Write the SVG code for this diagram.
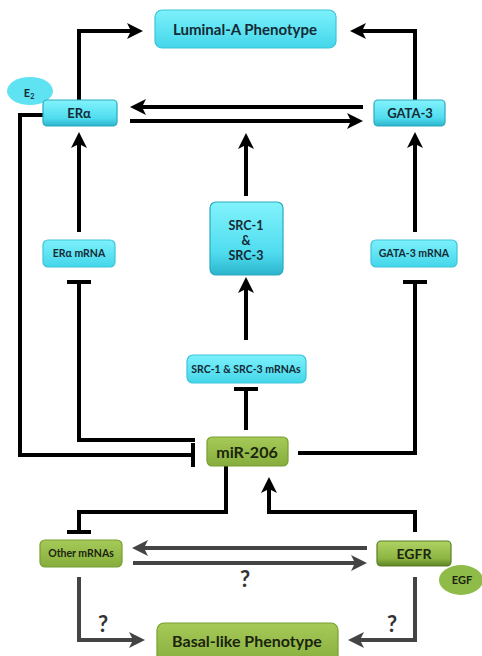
<svg xmlns="http://www.w3.org/2000/svg" width="482" height="656" viewBox="0 0 482 656">
<defs>
<linearGradient id="cy" x1="0" y1="0" x2="0" y2="1"><stop offset="0" stop-color="#7cf1fb"/><stop offset="1" stop-color="#44d6ea"/></linearGradient>
<linearGradient id="cy3" x1="0" y1="0" x2="0" y2="1"><stop offset="0" stop-color="#82f3fc"/><stop offset="0.7" stop-color="#4fdcef"/><stop offset="1" stop-color="#2bb4cc"/></linearGradient>
<linearGradient id="gr" x1="0" y1="0" x2="0" y2="1"><stop offset="0" stop-color="#a6ca58"/><stop offset="1" stop-color="#86ad3d"/></linearGradient>
<linearGradient id="gr3" x1="0" y1="0" x2="0" y2="1"><stop offset="0" stop-color="#b0d264"/><stop offset="0.7" stop-color="#8cb543"/><stop offset="1" stop-color="#5f8426"/></linearGradient>
<marker id="ah" viewBox="0 0 16 16" refX="6" refY="8" markerWidth="16" markerHeight="16" orient="auto" markerUnits="userSpaceOnUse"><path d="M0,0 L16,8 L0,16 L4,8 z" fill="#000"/></marker>
<marker id="ahg" viewBox="0 0 16 16" refX="6" refY="8" markerWidth="16" markerHeight="16" orient="auto" markerUnits="userSpaceOnUse"><path d="M0,0 L16,8 L0,16 L4,8 z" fill="#444"/></marker>
</defs>
<style>
.c{fill:url(#cy);stroke:#3cc3da;stroke-width:1.2}
.c3{fill:url(#cy3);stroke:#2aa9c0;stroke-width:1.2}
.g{fill:url(#gr);stroke:#76a030;stroke-width:1.2}
.g3{fill:url(#gr3);stroke:#5a7f22;stroke-width:1.2}
.e{fill:#5fe3f3}
.eg{fill:#8fbb48}
text{font-family:Lato,"Open Sans","Liberation Sans",sans-serif;font-weight:bold;text-anchor:middle}
.tc{fill:#142a35}
.tg{fill:#1a240e}
.k{fill:none;stroke:#000;stroke-width:4}
.kg{fill:none;stroke:#444;stroke-width:4}
.q{font-size:22px;fill:#333}
</style>
<g id="connectors">
<path class="k" d="M79,100 V31 H133" marker-end="url(#ah)"/>
<path class="k" d="M415,100 V31 H360" marker-end="url(#ah)"/>
<path class="k" d="M363,107 H140" marker-end="url(#ah)"/>
<path class="k" d="M130,121 H353" marker-end="url(#ah)"/>
<path class="k" d="M79,232 V142" marker-end="url(#ah)"/>
<path class="k" d="M246,196 V143" marker-end="url(#ah)"/>
<path class="k" d="M415,232 V142" marker-end="url(#ah)"/>
<path class="k" d="M246,340 V287" marker-end="url(#ah)"/>
<path class="k" d="M246,430 V389 M234,389 H258"/>
<path class="k" d="M195,440 H79 V282 M67,282 H91"/>
<path class="k" d="M298,453 H415 V282 M403,282 H427"/>
<path class="k" d="M43,115 H20 V455 H193 M193,443 V467"/>
<path class="k" d="M226,466 V512 H79 V532 M67,532 H91"/>
<path class="k" d="M415,532 V512 H269 V487" marker-end="url(#ah)"/>
<path class="kg" d="M367,548 H142" marker-end="url(#ahg)"/>
<path class="kg" d="M133,563 H357" marker-end="url(#ahg)"/>
<path class="kg" d="M79,577 V640 H135" marker-end="url(#ahg)"/>
<path class="kg" d="M415,577 V640 H358" marker-end="url(#ahg)"/>
<text class="q" x="245" y="587">?</text>
<text class="q" x="103" y="632">?</text>
<text class="q" x="392" y="632">?</text>
</g>
<g id="luminal"><rect class="c" x="155" y="10" width="181" height="38" rx="7"/><text class="tc" x="245" y="35" font-size="15">Luminal-A Phenotype</text></g>
<g id="e2"><ellipse class="e" cx="30" cy="91" rx="23" ry="14"/><text class="tc" x="29" y="97" font-size="11">E<tspan font-size="7" dy="2">2</tspan></text></g>
<g id="era"><rect class="c3" x="43" y="100" width="74" height="26" rx="4"/><text class="tc" x="79" y="118" font-size="13">ERα</text></g>
<g id="gata3"><rect class="c3" x="374" y="100" width="71" height="26" rx="4"/><text class="tc" x="410" y="118" font-size="13">GATA-3</text></g>
<g id="era-mrna"><rect class="c" x="43" y="240" width="72" height="27" rx="5"/><text class="tc" x="79" y="257" font-size="10.5">ERα mRNA</text></g>
<g id="gata3-mrna"><rect class="c" x="371" y="240" width="86" height="27" rx="5"/><text class="tc" x="414" y="257" font-size="10.5">GATA-3 mRNA</text></g>
<g id="src"><rect class="c3" x="210" y="202" width="73" height="73" rx="6"/><text class="tc" font-size="12.5"><tspan x="246" y="230">SRC-1</tspan><tspan x="246" y="245">&amp;</tspan><tspan x="246" y="260">SRC-3</tspan></text></g>
<g id="src-mrnas"><rect class="c" x="187" y="355" width="119" height="28" rx="6"/><text class="tc" x="246" y="373" font-size="10.5">SRC-1 &amp; SRC-3 mRNAs</text></g>
<g id="mir206"><rect class="g" x="207" y="437" width="81" height="29" rx="5"/><text class="tg" x="247" y="458" font-size="16">miR-206</text></g>
<g id="other-mrnas"><rect class="g" x="40" y="540" width="82" height="27" rx="5"/><text class="tg" x="81" y="557" font-size="10.5">Other mRNAs</text></g>
<g id="egf"><ellipse class="eg" cx="461" cy="580" rx="22" ry="15"/><text class="tg" x="462" y="584" font-size="11">EGF</text></g>
<g id="egfr"><rect class="g3" x="377" y="541" width="74" height="25" rx="4"/><text class="tg" x="414" y="559" font-size="14">EGFR</text></g>
<g id="basal"><rect class="g" x="157" y="623" width="181" height="42" rx="7"/><text class="tg" x="247" y="647" font-size="16">Basal-like Phenotype</text></g>
</svg>
